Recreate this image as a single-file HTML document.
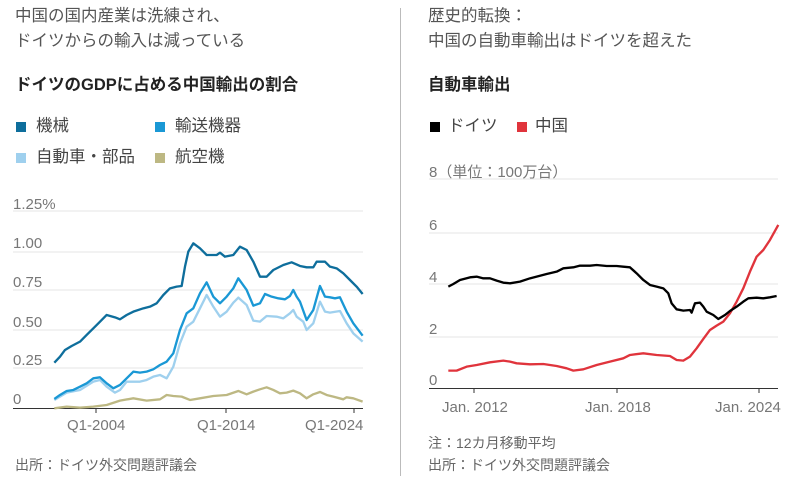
<!DOCTYPE html>
<html><head><meta charset="utf-8"><style>
body{margin:0;width:800px;height:486px;background:#fff;position:relative;overflow:hidden;font-family:"Liberation Sans","Noto Sans CJK JP",sans-serif;}
.t{position:absolute;white-space:nowrap;line-height:1;}
.title{font-size:16.5px;color:#555;}
.sub{font-size:16.5px;font-weight:bold;color:#222;}
.lg{font-size:16.5px;color:#444;}
.sq{position:absolute;width:10px;height:10px;}
.ax{font-size:15px;color:#777;}
.src{font-size:14px;color:#666;}
</style></head><body>
<div class="t title" style="left:15px;top:8px">中国の国内産業は洗練され、</div>
<div class="t title" style="left:15px;top:33px">ドイツからの輸入は減っている</div>
<div class="t sub" style="left:15px;top:77px">ドイツのGDPに占める中国輸出の割合</div>
<div class="sq" style="left:16px;top:122px;background:#0e6e9c"></div><div class="t lg" style="left:36px;top:118px">機械</div>
<div class="sq" style="left:155px;top:122px;background:#1a98d5"></div><div class="t lg" style="left:175px;top:118px">輸送機器</div>
<div class="sq" style="left:16px;top:153px;background:#9fd0ee"></div><div class="t lg" style="left:36px;top:149px">自動車・部品</div>
<div class="sq" style="left:155px;top:153px;background:#bdb883"></div><div class="t lg" style="left:175px;top:149px">航空機</div>

<div class="t title" style="left:428px;top:8px">歴史的転換：</div>
<div class="t title" style="left:428px;top:33px">中国の自動車輸出はドイツを超えた</div>
<div class="t sub" style="left:428px;top:77px">自動車輸出</div>
<div class="sq" style="left:430px;top:122px;background:#000"></div><div class="t lg" style="left:448px;top:118px">ドイツ</div>
<div class="sq" style="left:517px;top:122px;background:#e0343c"></div><div class="t lg" style="left:535px;top:118px">中国</div>

<div class="t ax" style="left:13px;top:197px">1.25%</div>
<div class="t ax" style="left:13px;top:236px">1.00</div>
<div class="t ax" style="left:13px;top:275px">0.75</div>
<div class="t ax" style="left:13px;top:315px">0.50</div>
<div class="t ax" style="left:13px;top:353px">0.25</div>
<div class="t ax" style="left:13px;top:392px">0</div>
<div class="t ax" style="left:67px;top:418px">Q1-2004</div>
<div class="t ax" style="left:197px;top:418px">Q1-2014</div>
<div class="t ax" style="left:305px;top:418px">Q1-2024</div>

<div class="t ax" style="left:429px;top:165px">8（単位：100万台）</div>
<div class="t ax" style="left:429px;top:218px">6</div>
<div class="t ax" style="left:429px;top:270px">4</div>
<div class="t ax" style="left:429px;top:322px">2</div>
<div class="t ax" style="left:429px;top:373px">0</div>
<div class="t ax" style="left:442px;top:400px">Jan. 2012</div>
<div class="t ax" style="left:585px;top:400px">Jan. 2018</div>
<div class="t ax" style="left:715px;top:400px">Jan. 2024</div>

<div class="t src" style="left:428px;top:436px">注：12カ月移動平均</div>
<div class="t src" style="left:428px;top:458px">出所：ドイツ外交問題評議会</div>
<div class="t src" style="left:15px;top:458px">出所：ドイツ外交問題評議会</div>

<svg width="800" height="486" style="position:absolute;left:0;top:0">
<line x1="400.5" y1="8" x2="400.5" y2="476" stroke="#bbb" stroke-width="1"/>
<g stroke="#e6e6e6" stroke-width="1">
<line x1="13" y1="211" x2="363" y2="211"/><line x1="13" y1="252" x2="363" y2="252"/><line x1="13" y1="290" x2="363" y2="290"/><line x1="13" y1="330" x2="363" y2="330"/><line x1="13" y1="368" x2="363" y2="368"/>
<line x1="429" y1="179" x2="778" y2="179"/><line x1="429" y1="233" x2="778" y2="233"/><line x1="429" y1="284" x2="778" y2="284"/><line x1="429" y1="337" x2="778" y2="337"/>
</g>
<g stroke="#333" stroke-width="1">
<line x1="13" y1="408.5" x2="363" y2="408.5"/><line x1="96" y1="408" x2="96" y2="413"/><line x1="226" y1="408" x2="226" y2="413"/><line x1="354" y1="408" x2="354" y2="413"/>
<line x1="429" y1="388.5" x2="778" y2="388.5"/><line x1="474" y1="388" x2="474" y2="393"/><line x1="617" y1="388" x2="617" y2="393"/><line x1="759" y1="388" x2="759" y2="393"/>
</g>
<g transform="translate(0,180) scale(0.3333)" fill="none" stroke-width="7" stroke-linejoin="round">
<polyline stroke="#bdb883" points="163,685 200,680 240,683 280,680 320,675 360,662 400,655 440,662 480,658 500,645 520,648 545,650 570,660 600,655 640,648 680,645 715,633 740,643 760,635 780,628 800,622 820,630 840,640 860,638 880,632 900,640 920,655 940,643 960,636 980,645 1000,650 1030,658 1040,652 1060,655 1088,665"/>
<polyline stroke="#9fd0ee" points="163,660 200,638 240,630 280,605 300,600 320,620 345,638 360,630 380,605 420,605 440,600 460,590 480,585 500,595 520,560 540,490 560,440 580,425 600,385 620,345 640,380 660,410 680,395 700,368 715,353 740,375 760,422 780,425 800,408 830,410 850,415 870,400 880,390 890,410 910,425 920,450 940,430 960,365 975,395 990,398 1020,393 1040,430 1060,460 1088,485"/>
<polyline stroke="#1a98d5" points="163,657 180,645 200,633 220,630 240,620 260,610 280,595 300,592 320,610 340,625 360,615 380,595 400,575 420,578 440,575 460,568 480,555 500,545 520,520 540,450 560,400 580,385 600,340 620,307 640,350 660,370 680,350 700,325 715,295 740,330 760,377 780,370 795,342 815,350 835,355 855,358 870,348 880,330 890,350 900,365 920,420 940,390 960,318 975,350 990,352 1005,355 1020,352 1040,395 1060,430 1088,467"/>
<polyline stroke="#0e6e9c" points="163,548 180,530 195,510 215,498 240,485 260,465 285,440 300,425 320,405 345,412 360,418 380,405 400,395 430,385 450,380 470,370 490,345 510,325 530,320 545,318 555,260 565,215 580,190 600,205 620,225 650,225 660,218 675,230 700,225 720,200 740,210 760,245 780,290 800,290 820,270 850,255 875,247 900,258 920,262 940,262 950,245 975,245 990,260 1010,265 1030,280 1050,300 1070,320 1088,342"/>
</g>
<g transform="translate(410,160) scale(0.3333)" fill="none" stroke-width="7" stroke-linejoin="round">
<polyline stroke="#e0343c" points="115,632 140,632 170,620 200,615 240,607 280,602 300,605 320,610 360,613 400,612 440,618 470,625 490,632 520,628 560,615 600,605 640,595 660,585 700,580 740,585 780,588 800,600 820,602 840,590 860,565 880,537 900,510 920,497 940,485 960,460 980,425 1000,385 1020,335 1040,290 1060,270 1080,240 1105,195"/>
<polyline stroke="#000" points="115,380 130,372 150,360 180,352 200,350 220,355 240,355 260,362 280,368 300,370 330,365 360,355 380,350 410,342 440,335 460,325 490,322 510,317 540,317 560,315 590,318 620,318 640,320 660,322 680,340 700,360 720,375 740,380 760,385 775,400 785,430 800,448 820,452 840,450 845,458 855,430 870,428 880,440 890,455 910,465 925,477 945,465 960,453 980,440 1000,425 1015,415 1040,413 1060,415 1080,412 1100,408"/>
</g>
</svg>
</body></html>
